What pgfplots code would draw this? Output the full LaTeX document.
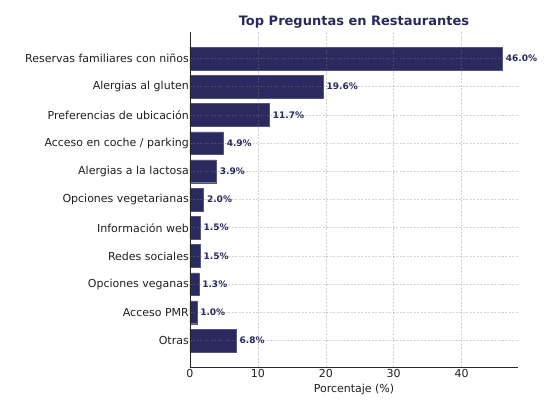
\documentclass[border=0pt]{standalone}
\usepackage{pgfplots}
\pgfplotsset{compat=1.18}
\usepackage{fontspec}
\setmainfont{DejaVu Sans}
\definecolor{navy}{HTML}{2B2A5E}
\definecolor{titlenavy}{HTML}{2A2A5A}

\begin{document}
\begin{tikzpicture}[x=1pt,y=1pt]
\useasboundingbox (-190,-38) rectangle (370,367);
\begin{axis}[
  at={(0,0)}, anchor=south west,
  scale only axis, width=328pt, height=335pt,
  xmin=0, xmax=48.3,
  ymin=-0.94, ymax=10.94, y dir=reverse,
  axis x line*=bottom, axis y line*=left,
  axis line style={line width=0.8pt, black!85, -},
  axis on top,
  xtick={0,10,20,30,40},
  ytick={0,...,10},
  yticklabels={Reservas familiares con niños, Alergias al gluten, Preferencias de ubicación, Acceso en coche / parking, Alergias a la lactosa, Opciones vegetarianas, Información web, Redes sociales, Opciones veganas, Acceso PMR, Otras},
  major tick length=0pt,
  ticklabel style={font=\fontsize{11}{13}\selectfont, text=black!88},
  yticklabel style={inner xsep=1pt},
  xticklabel style={inner ysep=2pt},
  /pgf/number format/assume math mode=true,
  xmajorgrids, ymajorgrids,
  grid style={gray, opacity=0.35, line width=0.5pt, dash pattern=on 2pt off 1.5pt},
  xlabel={Porcentaje (\%)},
  xlabel style={font=\fontsize{11}{13}\selectfont, text=black!88, yshift=-1pt},
  title={\textbf{Top Preguntas en Restaurantes}},
  title style={font=\fontsize{13}{15}\selectfont, text=titlenavy, yshift=-6pt},
  clip=false,
]
\addplot[xbar, bar width=22.7pt, fill=navy, draw=navy!80!white, line width=0.3pt,
  nodes near coords={\textbf{\pgfmathprintnumber[fixed,fixed zerofill,precision=1]{\pgfplotspointmeta}\%}},
  nodes near coords style={font=\fontsize{9}{11}\selectfont, text=titlenavy, anchor=west, xshift=0pt},
  point meta=x]
coordinates {
  (46.0,0)
  (19.6,1)
  (11.7,2)
  (4.9,3)
  (3.9,4)
  (2.0,5)
  (1.5,6)
  (1.5,7)
  (1.3,8)
  (1.0,9)
  (6.8,10)
};
\end{axis}
\end{tikzpicture}
\end{document}
